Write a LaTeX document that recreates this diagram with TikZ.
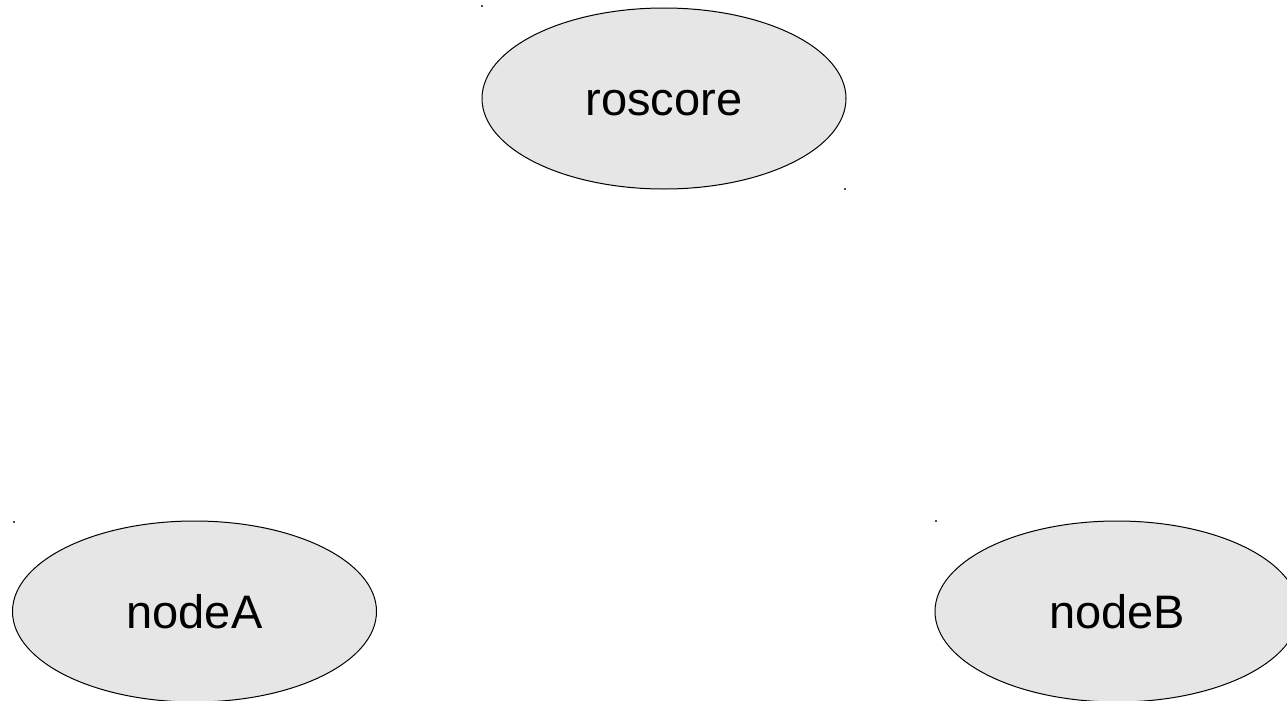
\documentclass[tikz,border=0pt]{standalone}
\usepackage{fontspec}
\setmainfont{Liberation Sans}
\usetikzlibrary{shapes.geometric}
\begin{document}
\begin{tikzpicture}[x=1pt,y=-1pt,
  procnode/.style={ellipse, draw=black, line width=1pt, fill=procfill,
    minimum width=364pt, minimum height=181pt, inner sep=0pt,
    text height=34pt, text depth=0pt,
    font=\fontsize{47}{56}\selectfont},
  handle/.style={fill=black!70, draw=none, minimum size=1.6pt, inner sep=0pt}]
  \definecolor{procfill}{HTML}{E6E6E6}
  \useasboundingbox (0,0) rectangle (1287,701);
  \clip (0,0) rectangle (1287,701);
  % process ellipses
  \node[procnode] (roscore) at (664,98.5) {roscore};
  \node[procnode] (nodeA)   at (194.5,611.5) {nodeA};
  \node[procnode] (nodeB)   at (1117,611.5) {nodeB};
  % small selection handles at the bounding corners
  \node[handle] (h1) at (482,6) {};
  \node[handle] (h2) at (845,189) {};
  \node[handle] (h3) at (14,522) {};
  \node[handle] (h4) at (936,521) {};
\end{tikzpicture}
\end{document}
